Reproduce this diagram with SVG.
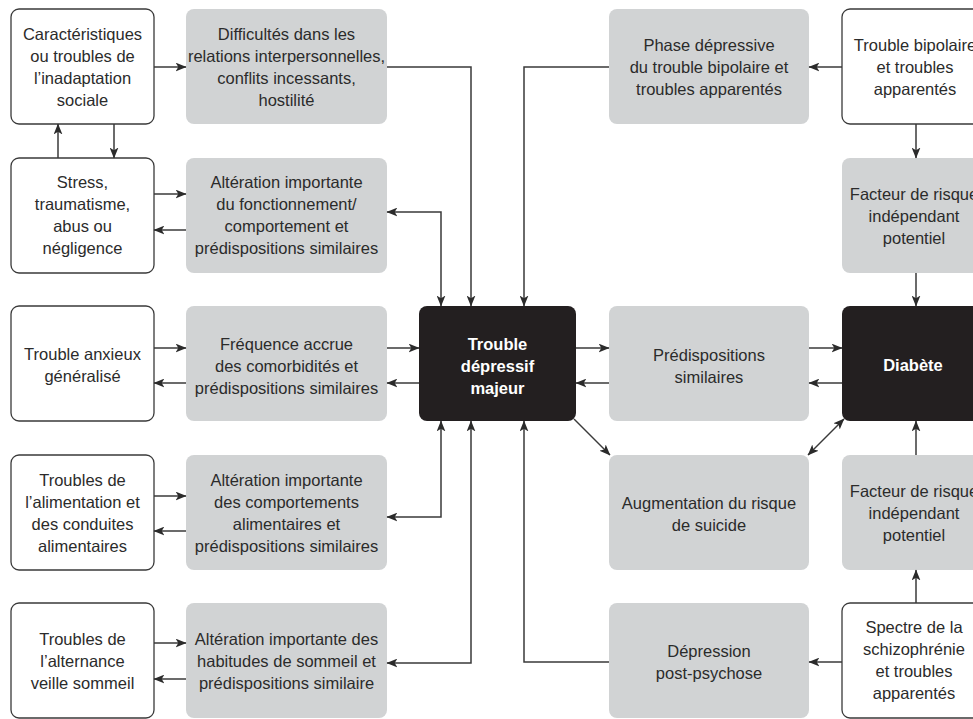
<svg xmlns="http://www.w3.org/2000/svg" width="973" height="719" viewBox="0 0 973 719">
<style>
.w{fill:#ffffff;stroke:#3a3a3a;stroke-width:1.3}
.g{fill:#d1d3d4}
.k{fill:#231f20}
text{font-family:"Liberation Sans",Arial,sans-serif;font-size:16.5px;fill:#2b2b2b;text-anchor:middle}
.b{font-weight:bold;fill:#ffffff}
.c path{fill:none;stroke:#3a3a3a;stroke-width:1.5}
</style>
<defs>
<marker id="ah" viewBox="0 0 10 8" markerWidth="11" markerHeight="9" refX="9.5" refY="4" markerUnits="userSpaceOnUse" orient="auto-start-reverse">
<path d="M0,0 L10,4 L0,8 L2.5,4 Z" fill="#2b2b2b"/>
</marker>
</defs>
<rect width="973" height="719" fill="#ffffff"/>

<g id="n_inadaptation"><rect class="w" x="11" y="9" width="143" height="115" rx="8"/>
<text x="82.5" y="39.5">Caractéristiques</text><text x="82.5" y="61.5">ou troubles de</text><text x="82.5" y="83.5">l’inadaptation</text><text x="82.5" y="105.5">sociale</text></g>
<g id="n_difficultes"><rect class="g" x="186" y="9" width="201" height="115" rx="8"/>
<text x="286.5" y="39.5">Difficultés dans les</text><text x="286.5" y="61.5">relations interpersonnelles,</text><text x="286.5" y="83.5">conflits incessants,</text><text x="286.5" y="105.5">hostilité</text></g>
<g id="n_phase"><rect class="g" x="609" y="9" width="200" height="115" rx="8"/>
<text x="709" y="50.5">Phase dépressive</text><text x="709" y="72.5">du trouble bipolaire et</text><text x="709" y="94.5">troubles apparentés</text></g>
<g id="n_bipolaire"><rect class="w" x="842" y="9" width="146" height="115" rx="8"/>
<text x="915" y="50.5">Trouble bipolaire</text><text x="915" y="72.5">et troubles</text><text x="915" y="94.5">apparentés</text></g>

<g id="n_stress"><rect class="w" x="11" y="158" width="143" height="115" rx="8"/>
<text x="82.5" y="187.5">Stress,</text><text x="82.5" y="209.5">traumatisme,</text><text x="82.5" y="231.5">abus ou</text><text x="82.5" y="253.5">négligence</text></g>
<g id="n_fonctionnement"><rect class="g" x="186" y="158" width="201" height="115" rx="8"/>
<text x="286.5" y="187.5">Altération importante</text><text x="286.5" y="209.5">du fonctionnement/</text><text x="286.5" y="231.5">comportement et</text><text x="286.5" y="253.5">prédispositions similaires</text></g>
<g id="n_facteur1"><rect class="g" x="842" y="158" width="146" height="115" rx="8"/>
<text x="914" y="199.5">Facteur de risque</text><text x="914" y="221.5">indépendant</text><text x="914" y="243.5">potentiel</text></g>

<g id="n_anxieux"><rect class="w" x="11" y="306" width="143" height="115" rx="8"/>
<text x="82.5" y="359.5">Trouble anxieux</text><text x="82.5" y="381.5">généralisé</text></g>
<g id="n_comorbidites"><rect class="g" x="186" y="306" width="201" height="115" rx="8"/>
<text x="286.5" y="349.5">Fréquence accrue</text><text x="286.5" y="371.5">des comorbidités et</text><text x="286.5" y="393.5">prédispositions similaires</text></g>
<g id="n_tdm"><rect class="k" x="419" y="306" width="157" height="115" rx="8"/>
<text class="b" x="497.5" y="349.5">Trouble</text><text class="b" x="497.5" y="371.5">dépressif</text><text class="b" x="497.5" y="393.5">majeur</text></g>
<g id="n_predispositions"><rect class="g" x="609" y="306" width="200" height="115" rx="8"/>
<text x="709" y="360.5">Prédispositions</text><text x="709" y="382.5">similaires</text></g>
<g id="n_diabete"><rect class="k" x="842" y="306" width="146" height="115" rx="8"/>
<text class="b" x="913" y="370.5">Diabète</text></g>

<g id="n_alimentation"><rect class="w" x="11" y="455" width="143" height="115" rx="8"/>
<text x="82.5" y="485.5">Troubles de</text><text x="82.5" y="507.5">l’alimentation et</text><text x="82.5" y="529.5">des conduites</text><text x="82.5" y="551.5">alimentaires</text></g>
<g id="n_comportements"><rect class="g" x="186" y="455" width="201" height="115" rx="8"/>
<text x="286.5" y="485.5">Altération importante</text><text x="286.5" y="507.5">des comportements</text><text x="286.5" y="529.5">alimentaires et</text><text x="286.5" y="551.5">prédispositions similaires</text></g>
<g id="n_suicide"><rect class="g" x="609" y="455" width="200" height="115" rx="8"/>
<text x="709" y="508.5">Augmentation du risque</text><text x="709" y="530.5">de suicide</text></g>
<g id="n_facteur2"><rect class="g" x="842" y="455" width="146" height="115" rx="8"/>
<text x="914" y="496.5">Facteur de risque</text><text x="914" y="518.5">indépendant</text><text x="914" y="540.5">potentiel</text></g>

<g id="n_sommeil"><rect class="w" x="11" y="603" width="143" height="115" rx="8"/>
<text x="82.5" y="644.5">Troubles de</text><text x="82.5" y="666.5">l’alternance</text><text x="82.5" y="688.5">veille sommeil</text></g>
<g id="n_habitudes"><rect class="g" x="186" y="603" width="201" height="115" rx="8"/>
<text x="286.5" y="644.5">Altération importante des</text><text x="286.5" y="666.5">habitudes de sommeil et</text><text x="286.5" y="688.5">prédispositions similaire</text></g>
<g id="n_postpsychose"><rect class="g" x="609" y="603" width="200" height="115" rx="8"/>
<text x="709" y="656.5">Dépression</text><text x="709" y="678.5">post-psychose</text></g>
<g id="n_schizophrenie"><rect class="w" x="842" y="603" width="146" height="115" rx="8"/>
<text x="914" y="632.5">Spectre de la</text><text x="914" y="654.5">schizophrénie</text><text x="914" y="676.5">et troubles</text><text x="914" y="698.5">apparentés</text></g>

<g id="connectors" class="c">
<path d="M154,67 H186" marker-end="url(#ah)"/>
<path d="M58,158 V124" marker-end="url(#ah)"/>
<path d="M114,124 V158" marker-end="url(#ah)"/>
<path d="M387,67 H471 V306" marker-end="url(#ah)"/>
<path d="M609,67 H524 V306" marker-end="url(#ah)"/>
<path d="M842,67 H809" marker-end="url(#ah)"/>
<path d="M916,124 V158" marker-end="url(#ah)"/>

<path d="M154,194 H186" marker-end="url(#ah)"/>
<path d="M186,230 H154" marker-end="url(#ah)"/>
<path d="M387,212 H441 V306" marker-start="url(#ah)" marker-end="url(#ah)"/>
<path d="M916,273 V306" marker-end="url(#ah)"/>

<path d="M154,348 H186" marker-end="url(#ah)"/>
<path d="M186,383 H154" marker-end="url(#ah)"/>
<path d="M387,348 H419" marker-end="url(#ah)"/>
<path d="M419,383 H387" marker-end="url(#ah)"/>
<path d="M576,348 H609" marker-end="url(#ah)"/>
<path d="M609,383 H576" marker-end="url(#ah)"/>
<path d="M809,348 H842" marker-end="url(#ah)"/>
<path d="M842,383 H809" marker-end="url(#ah)"/>

<path d="M574,419 L610,455" marker-end="url(#ah)"/>
<path d="M844,419 L808,455" marker-start="url(#ah)" marker-end="url(#ah)"/>
<path d="M154,496 H186" marker-end="url(#ah)"/>
<path d="M186,531 H154" marker-end="url(#ah)"/>
<path d="M387,517 H441 V421" marker-start="url(#ah)" marker-end="url(#ah)"/>
<path d="M916,455 V421" marker-end="url(#ah)"/>

<path d="M154,643 H186" marker-end="url(#ah)"/>
<path d="M186,679 H154" marker-end="url(#ah)"/>
<path d="M387,663 H471 V421" marker-start="url(#ah)" marker-end="url(#ah)"/>
<path d="M609,662 H524 V421" marker-end="url(#ah)"/>
<path d="M842,662 H809" marker-end="url(#ah)"/>
<path d="M916,603 V570" marker-end="url(#ah)"/>
</g>
</svg>
